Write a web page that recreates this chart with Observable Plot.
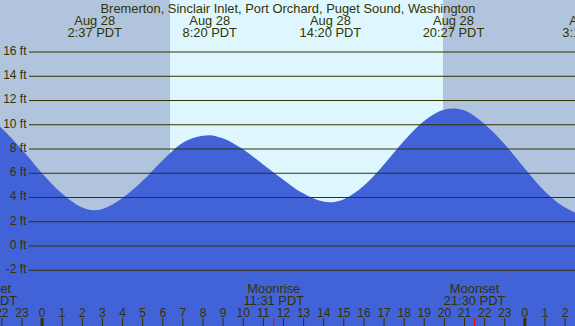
<!DOCTYPE html>
<html>
<head>
<meta charset="utf-8">
<script src="https://cdn.jsdelivr.net/npm/d3@7"></script>
<script src="https://cdn.jsdelivr.net/npm/@observablehq/plot@0.6"></script>
<style>
  html, body { margin: 0; padding: 0; background: #fff; }
  #chart svg { display: block; }
</style>
</head>
<body>
<div id="chart"></div>
<script>
// ---- data ----
const title = "Bremerton, Sinclair Inlet, Port Orchard, Puget Sound, Washington";

// hourly tide heights (hours since Aug 28 00:00 PDT), ft
const hourlyT  = [-3, -2, -1, 0, 1, 2, 3, 4, 5, 6, 7, 8, 9, 10, 11, 12, 13, 14, 15, 16, 17, 18, 19, 20, 21, 22, 23, 24, 25, 26, 27];
const hourlyFt = [10.9, 9.7, 7.95, 6.0, 4.3, 3.15, 3.0, 3.9, 5.3, 7.0, 8.45, 9.05, 8.85, 7.95, 6.7, 5.45, 4.3, 3.62, 3.8, 4.9, 6.65, 8.6, 10.25, 11.2, 11.15, 10.05, 8.4, 6.4, 4.5, 3.15, 2.5];

// high / low tide extremes
const extremeDates = ["Aug 28", "Aug 28", "Aug 28", "Aug 28", "Aug 29"];
const extremeTimes = ["2:37", "8:20", "14:20", "20:27", "3:13"];
const extremeDay   = [0, 0, 0, 0, 1];
const extremeFt    = [2.9, 9.1, 3.56, 11.3, 2.45];

// sun (night shading)
const nightStart    = ["19:59", "19:57"];
const nightStartDay = [-1, 0];
const nightEnd      = ["6:23", "6:24"];
const nightEndDay   = [0, 1];

// moon events
const moonNames = ["Moonset", "Moonrise", "Moonset"];
const moonTimes = ["21:14", "11:31", "21:30"];
const moonDay   = [-1, 0, 0];

// visible window
const windowStart = ["21:56", -1];
const windowEnd   = ["2:31", 1];
const ftRange     = [-6.64, 20.25];
const ftTicks     = [-2, 0, 2, 4, 6, 8, 10, 12, 14, 16];

// ---- helpers ----
const toHours = (s, day) => { const [h, m] = s.split(":").map(Number); return h + m / 60 + 24 * day; };

const extremes = extremeTimes.map((s, i) => ({t: toHours(s, extremeDay[i]), ft: extremeFt[i], date: extremeDates[i], time: s + " PDT"}));
const tide = hourlyT.map((t, i) => ({t, ft: hourlyFt[i]}))
  .concat(extremes.map(d => ({t: d.t, ft: d.ft})))
  .sort((a, b) => a.t - b.t);

const nights = nightStart.map((s, i) => ({x1: toHours(s, nightStartDay[i]), x2: toHours(nightEnd[i], nightEndDay[i])}));
const x0 = toHours(...windowStart), x1 = toHours(...windowEnd);
const day = {x1: nights[0].x2, x2: nights[1].x1};
const moons = moonTimes.map((s, i) => ({t: toHours(s, moonDay[i]), name: moonNames[i], time: s + " PDT"}));
const hourTicks = d3.range(Math.ceil(x0), Math.floor(x1) + 1);

const ink = "#333300";
const font = "Liberation Sans, Arial, Helvetica, sans-serif";
const fs = 12.9;   // title and event labels
const fsAxis = 12; // axis numbers

const chart = Plot.plot({
  width: 575,
  height: 326,
  margin: 0,
  style: {fontFamily: font, fontSize: fs + "px", background: "#ffffff"},
  x: {domain: [x0, x1], axis: null},
  y: {domain: ftRange, axis: null},
  marks: [
    Plot.rect(nights, {x1: "x1", x2: "x2", fill: "#b0c4de", clip: true}),
    Plot.rect([day], {x1: "x1", x2: "x2", fill: "#def7ff", clip: true}),
    Plot.areaY(tide, {x: "t", y1: ftRange[0], y2: "ft", fill: "#4262d8", curve: "monotone-x", clip: true}),
    Plot.ruleY(ftTicks, {stroke: ink, strokeWidth: 1, insetLeft: 29}),
    Plot.text(ftTicks, {text: d => `${d} ft`, frameAnchor: "left", y: d => d, dx: 26, dy: -1, textAnchor: "end", fill: ink, fontSize: fsAxis}),
    // title and extreme labels
    Plot.text([title], {frameAnchor: "top", dy: 12, lineAnchor: "bottom", fill: ink, fontSize: fs}),
    Plot.text(extremes, {x: "t", text: "date", frameAnchor: "top", dy: 24, lineAnchor: "bottom", fill: ink, fontSize: fs}),
    Plot.text(extremes, {x: "t", text: "time", frameAnchor: "top", dy: 36, lineAnchor: "bottom", fill: ink, fontSize: fs}),
    // moon labels
    Plot.text(moons, {x: "t", text: "name", frameAnchor: "bottom", dy: -34, lineAnchor: "bottom", fill: ink, fontSize: fs}),
    Plot.text(moons, {x: "t", text: "time", frameAnchor: "bottom", dy: -22, lineAnchor: "bottom", fill: ink, fontSize: fs}),
    // hour ticks
    Plot.text(hourTicks, {x: d => d, text: d => ((d % 24) + 24) % 24, frameAnchor: "bottom", dy: -10, lineAnchor: "bottom", fill: ink, fontSize: fsAxis}),
    Plot.ruleX(hourTicks, {x: d => d, stroke: ink, strokeWidth: d => (((d % 24) + 24) % 24 === 0 ? 3 : 1), insetTop: 318}),
    Plot.ruleX(moons, {x: "t", stroke: "red", strokeWidth: 1, insetTop: 318})
  ]
});
document.getElementById("chart").appendChild(chart);
</script>
</body>
</html>
